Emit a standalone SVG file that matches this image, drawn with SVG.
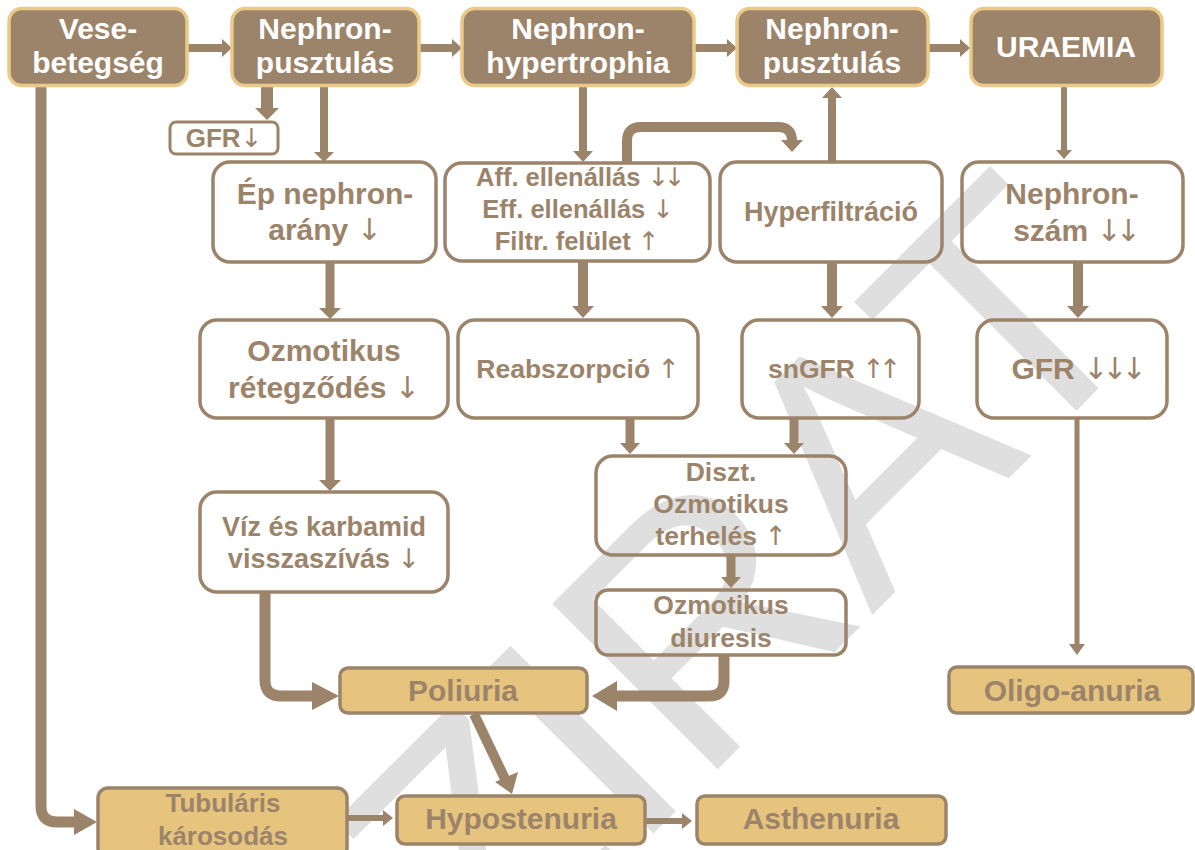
<svg xmlns="http://www.w3.org/2000/svg" width="1195" height="850" viewBox="0 0 1195 850">
  <defs>
    <style>
      .t { font-family: "Liberation Sans", Arial, sans-serif; font-weight: bold; text-anchor: middle; }
      .hd rect { fill: #9C846B; stroke: #EBC987; stroke-width: 3.5; }
      .hd text { fill: #FFFFFF; font-size: 30px; }
      .ol rect { fill: none; stroke: #9C846B; stroke-width: 3.5; }
      .ol text { fill: #9C846B; }
      .au rect { fill: #E6C47E; stroke: #9C846B; stroke-width: 3.5; }
      .au text { fill: #9C846B; font-size: 30px; }
      .ar { font-family: "DejaVu Sans", sans-serif; font-weight: normal; }
      .ar2 { font-family: "DejaVu Sans", sans-serif; font-weight: normal; letter-spacing: -0.2em; }
      .ln { fill: none; stroke: #9C846B; stroke-linejoin: round; }
      .hw { fill: #9C846B; }
      .wm { font-family: "Liberation Sans", Arial, sans-serif; font-size: 340px; fill: #DFDFDF; text-anchor: end; }
    </style>
  </defs>
  <rect width="1195" height="850" fill="#FFFFFF"/>

  <!-- background watermark -->
  <text class="wm" transform="translate(1161 326) rotate(-45)">KÉZIRAT</text>

  <!-- connectors -->
  <g id="connectors">
    <!-- header chain -->
    <path class="ln" d="M187 48 H224" stroke-width="8"/>
    <polygon class="hw" points="222,39 232,48 222,57"/>
    <path class="ln" d="M419 48 H454" stroke-width="8"/>
    <polygon class="hw" points="452,39 462,48 452,57"/>
    <path class="ln" d="M694 48 H729" stroke-width="8"/>
    <polygon class="hw" points="727,39 737,48 727,57"/>
    <path class="ln" d="M928 48 H962" stroke-width="8"/>
    <polygon class="hw" points="960,39 970,48 960,57"/>

    <!-- Vese-betegség down to Tubuláris károsodás -->
    <path class="ln" d="M41 86 V806 Q41 822 57 822 H76" stroke-width="11"/>
    <polygon class="hw" points="74,809 97,822 74,835"/>

    <!-- Nephron-pusztulás -> GFR -->
    <path class="ln" d="M267 86 V110" stroke-width="12"/>
    <polygon class="hw" points="255,108 279,108 267,120"/>
    <!-- Nephron-pusztulás -> Ép nephron -->
    <path class="ln" d="M324 86 V154" stroke-width="8"/>
    <polygon class="hw" points="314,152 334,152 324,162"/>
    <!-- Ép -> Ozmotikus rétegződés -->
    <path class="ln" d="M330 262 V310" stroke-width="9"/>
    <polygon class="hw" points="319,308 341,308 330,319"/>
    <!-- Ozmotikus rétegződés -> Víz -->
    <path class="ln" d="M330 418 V482" stroke-width="9"/>
    <polygon class="hw" points="319,480 341,480 330,491"/>
    <!-- Víz -> Poliuria -->
    <path class="ln" d="M265 593 V680 Q265 696 281 696 H315" stroke-width="11"/>
    <polygon class="hw" points="312,682 339,696 312,710"/>

    <!-- hypertrophia -> Aff -->
    <path class="ln" d="M583 86 V153" stroke-width="8"/>
    <polygon class="hw" points="573,151 593,151 583,162"/>
    <!-- Aff loop -> Hyperfiltráció -->
    <path class="ln" d="M627 162 V141 Q627 127 641 127 H778 Q792 127 792 141 V142" stroke-width="10"/>
    <polygon class="hw" points="781,140 803,140 792,152"/>
    <!-- Hyperfiltráció -> Nephron-pusztulás -->
    <path class="ln" d="M832 162 V96" stroke-width="8"/>
    <polygon class="hw" points="822,98 842,98 832,87"/>
    <!-- Aff -> Reabszorpció -->
    <path class="ln" d="M583 262 V308" stroke-width="10"/>
    <polygon class="hw" points="572,306 594,306 583,318"/>
    <!-- Hyperfiltráció -> snGFR -->
    <path class="ln" d="M832 262 V308" stroke-width="10"/>
    <polygon class="hw" points="821,306 843,306 832,318"/>
    <!-- Reabszorpció -> Diszt -->
    <path class="ln" d="M630 418 V445" stroke-width="9"/>
    <polygon class="hw" points="620,443 640,443 630,454"/>
    <!-- snGFR -> Diszt -->
    <path class="ln" d="M794 418 V445" stroke-width="9"/>
    <polygon class="hw" points="784,443 804,443 794,454"/>
    <!-- Diszt -> Ozmotikus diuresis -->
    <path class="ln" d="M731 555 V579" stroke-width="9"/>
    <polygon class="hw" points="721,577 741,577 731,588"/>
    <!-- Ozmotikus diuresis -> Poliuria -->
    <path class="ln" d="M724 655 V681 Q724 696 709 696 H614" stroke-width="11"/>
    <polygon class="hw" points="617,681 592,696 617,711"/>

    <!-- URAEMIA -> Nephron-szám -->
    <path class="ln" d="M1064 86 V152" stroke-width="6"/>
    <polygon class="hw" points="1056,150 1072,150 1064,159"/>
    <!-- Nephron-szám -> GFR -->
    <path class="ln" d="M1078 262 V308" stroke-width="10"/>
    <polygon class="hw" points="1067,306 1089,306 1078,318"/>
    <!-- GFR -> Oligo-anuria -->
    <path class="ln" d="M1077 418 V646" stroke-width="5"/>
    <polygon class="hw" points="1069,644 1085,644 1077,655"/>

    <!-- Poliuria -> Hypostenuria -->
    <path class="ln" d="M474 714 L505 779" stroke-width="10"/>
    <polygon class="hw" points="495,782 518,772 512,794"/>
    <!-- Tubuláris -> Hypostenuria -->
    <path class="ln" d="M348 818 H385" stroke-width="6"/>
    <polygon class="hw" points="383,810 393,818 383,826"/>
    <!-- Hypostenuria -> Asthenuria -->
    <path class="ln" d="M646 821 H684" stroke-width="6"/>
    <polygon class="hw" points="682,813 692,821 682,829"/>
  </g>

  <!-- header row -->
  <g id="vesebetegseg" class="hd t">
    <rect x="9" y="8.5" width="178" height="77" rx="13"/>
    <text x="98" y="39">Vese-</text>
    <text x="98" y="73">betegség</text>
  </g>
  <g id="nephronpusztulas1" class="hd t">
    <rect x="232" y="8.5" width="187" height="77" rx="13"/>
    <text x="325" y="39">Nephron-</text>
    <text x="325" y="73">pusztulás</text>
  </g>
  <g id="nephronhypertrophia" class="hd t">
    <rect x="462" y="8.5" width="232" height="77" rx="13"/>
    <text x="578" y="39">Nephron-</text>
    <text x="578" y="73">hypertrophia</text>
  </g>
  <g id="nephronpusztulas2" class="hd t">
    <rect x="737" y="8.5" width="191" height="77" rx="13"/>
    <text x="832" y="39">Nephron-</text>
    <text x="832" y="73">pusztulás</text>
  </g>
  <g id="uraemia" class="hd t">
    <rect x="971" y="8.5" width="191" height="77" rx="13"/>
    <text x="1066" y="57">URAEMIA</text>
  </g>

  <!-- left column -->
  <g id="gfr1" class="ol t">
    <rect x="170" y="122" width="108" height="32" rx="6" style="stroke-width:3;fill:#FFFFFF"/>
    <text x="224" y="147" style="font-size:26px">GFR<tspan class="ar">↓</tspan></text>
  </g>
  <g id="epnephron" class="ol t">
    <rect x="213" y="162" width="223" height="100" rx="17"/>
    <text x="325" y="204" style="font-size:30px">Ép nephron-</text>
    <text x="325" y="240" style="font-size:30px">arány <tspan class="ar">↓</tspan></text>
  </g>
  <g id="ozmreteg" class="ol t">
    <rect x="200" y="320" width="248" height="98" rx="17"/>
    <text x="324" y="361" style="font-size:30px">Ozmotikus</text>
    <text x="324" y="398" style="font-size:30px">rétegződés <tspan class="ar">↓</tspan></text>
  </g>
  <g id="vizkarbamid" class="ol t">
    <rect x="200" y="492" width="248" height="100" rx="17"/>
    <text x="324" y="536" style="font-size:27px">Víz és karbamid</text>
    <text x="324" y="568" style="font-size:27px">visszaszívás <tspan class="ar">↓</tspan></text>
  </g>

  <!-- middle columns -->
  <g id="affellenallas" class="ol t">
    <rect x="445" y="163" width="265" height="98" rx="17"/>
    <text x="578" y="186" style="font-size:25.5px">Aff. ellenállás <tspan class="ar2">↓↓</tspan></text>
    <text x="578" y="218" style="font-size:25.5px">Eff. ellenállás <tspan class="ar">↓</tspan></text>
    <text x="577" y="250" style="font-size:25.5px">Filtr. felület <tspan class="ar">↑</tspan></text>
  </g>
  <g id="reabszorpcio" class="ol t">
    <rect x="458" y="320" width="240" height="98" rx="17"/>
    <text x="578" y="378" style="font-size:26.5px">Reabszorpció <tspan class="ar">↑</tspan></text>
  </g>
  <g id="hyperfiltracio" class="ol t">
    <rect x="720" y="162" width="222" height="100" rx="17"/>
    <text x="831" y="221" style="font-size:27px">Hyperfiltráció</text>
  </g>
  <g id="sngfr" class="ol t">
    <rect x="742" y="320" width="177" height="98" rx="17"/>
    <text x="832" y="378" style="font-size:26.5px">snGFR <tspan class="ar2">↑↑</tspan></text>
  </g>
  <g id="disztozm" class="ol t">
    <rect x="596" y="456" width="250" height="99" rx="17"/>
    <text x="721" y="481" style="font-size:26.5px">Diszt.</text>
    <text x="721" y="513" style="font-size:26.5px">Ozmotikus</text>
    <text x="721" y="545" style="font-size:26.5px">terhelés <tspan class="ar">↑</tspan></text>
  </g>
  <g id="ozmdiuresis" class="ol t">
    <rect x="596" y="590" width="250" height="65" rx="12"/>
    <text x="721" y="614" style="font-size:26.5px">Ozmotikus</text>
    <text x="721" y="647" style="font-size:26.5px">diuresis</text>
  </g>

  <!-- right column -->
  <g id="nephronszam" class="ol t">
    <rect x="962" y="162" width="221" height="100" rx="17"/>
    <text x="1072" y="204" style="font-size:30px">Nephron-</text>
    <text x="1074" y="241" style="font-size:30px">szám <tspan class="ar2">↓↓</tspan></text>
  </g>
  <g id="gfr2" class="ol t">
    <rect x="977" y="320" width="190" height="98" rx="17"/>
    <text x="1076" y="379" style="font-size:30px">GFR <tspan class="ar2">↓↓↓</tspan></text>
  </g>

  <!-- outcomes -->
  <g id="poliuria" class="au t">
    <rect x="340" y="668" width="247" height="45" rx="8"/>
    <text x="463" y="701">Poliuria</text>
  </g>
  <g id="oligoanuria" class="au t">
    <rect x="949" y="667" width="244" height="46" rx="8"/>
    <text x="1072" y="701">Oligo-anuria</text>
  </g>
  <g id="tubularis" class="au t">
    <rect x="98" y="788" width="249" height="70" rx="10"/>
    <text x="223" y="812" style="font-size:26px">Tubuláris</text>
    <text x="223" y="845" style="font-size:26px">károsodás</text>
  </g>
  <g id="hypostenuria" class="au t">
    <rect x="397" y="796" width="248" height="48" rx="8"/>
    <text x="521" y="829">Hypostenuria</text>
  </g>
  <g id="asthenuria" class="au t">
    <rect x="697" y="796" width="249" height="48" rx="8"/>
    <text x="821" y="829">Asthenuria</text>
  </g>
</svg>
